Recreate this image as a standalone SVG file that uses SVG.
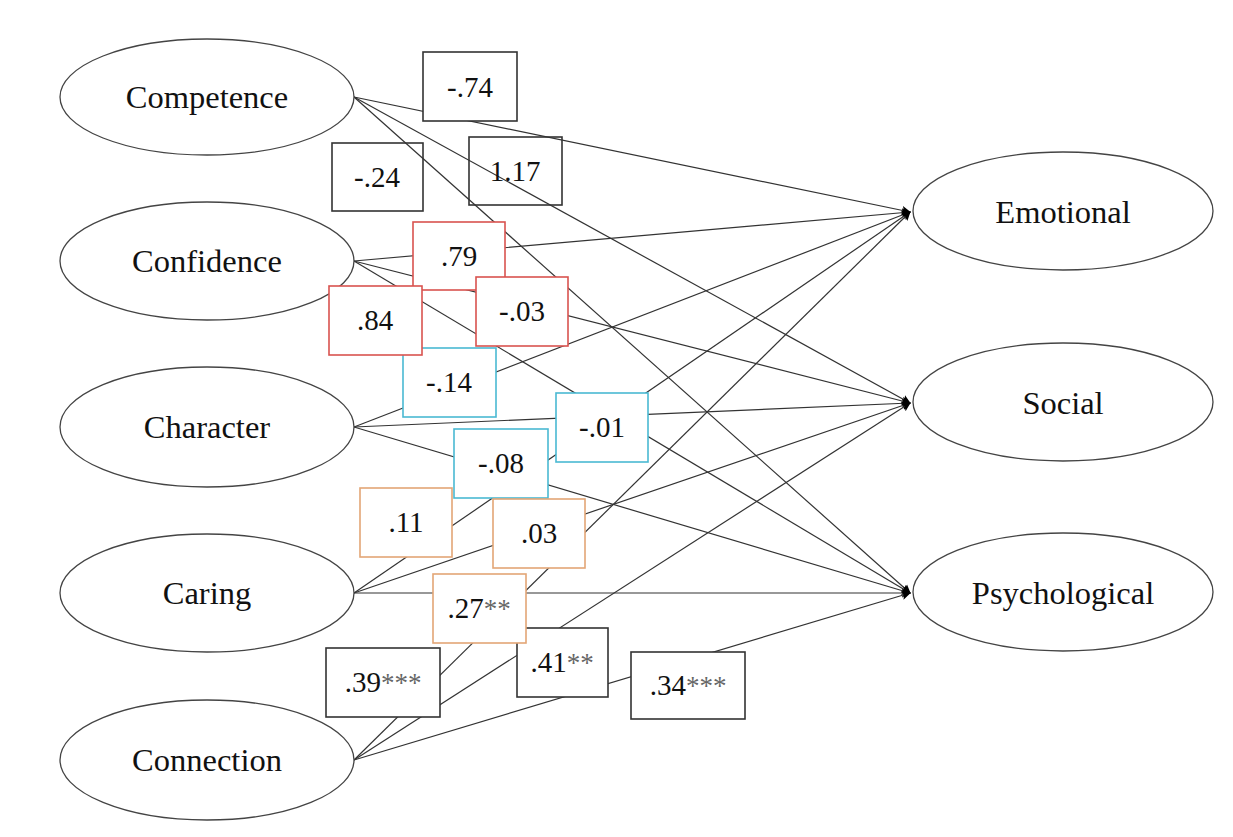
<svg xmlns="http://www.w3.org/2000/svg" width="1233" height="837" viewBox="0 0 1233 837">
<defs>
<style>
.node ellipse{fill:#fff;stroke:#444;stroke-width:1.3}
.node text{font-family:"Liberation Serif","Times New Roman",serif;font-size:32.5px;fill:#111;text-anchor:middle}
#connectors line{stroke:#333;stroke-width:1.2;marker-end:url(#ah)}
.lbl rect{fill:#fff;stroke-width:1.6}
.lbl text{font-family:"Liberation Serif","Times New Roman",serif;font-size:29px;fill:#111;text-anchor:middle}
.lbl .ast{fill:#666;font-size:27px}
.k rect{stroke:#333}
.r rect{stroke:#d9534f}
.c rect{stroke:#4ab9d3}
.o rect{stroke:#e3a676}
.nf rect{fill:none}
</style>
<marker id="ah" viewBox="0 0 10 10" refX="9" refY="5" markerWidth="9" markerHeight="11" markerUnits="userSpaceOnUse" orient="auto">
<path d="M0,0 L10,5 L0,10 L2,5 z" fill="#000"/>
</marker>
</defs>
<rect width="1233" height="837" fill="#fff"/>

<g id="connectors">
<line x1="354" y1="97" x2="910" y2="212"/>
<line x1="354" y1="97" x2="910" y2="403"/>
<line x1="354" y1="97" x2="910" y2="593"/>
<line x1="354" y1="261" x2="910" y2="212"/>
<line x1="354" y1="261" x2="910" y2="403"/>
<line x1="354" y1="261" x2="910" y2="593"/>
<line x1="354" y1="427" x2="910" y2="212"/>
<line x1="354" y1="427" x2="910" y2="403"/>
<line x1="354" y1="427" x2="910" y2="593"/>
<line x1="354" y1="593" x2="910" y2="212"/>
<line x1="354" y1="593" x2="910" y2="403"/>
<line x1="354" y1="593" x2="910" y2="593"/>
<line x1="354" y1="760" x2="910" y2="212"/>
<line x1="354" y1="760" x2="910" y2="403"/>
<line x1="354" y1="760" x2="910" y2="593"/>
</g>

<g id="node-competence" class="node"><ellipse cx="207" cy="97" rx="147" ry="58"/><text x="207" y="108">Competence</text></g>
<g id="node-confidence" class="node"><ellipse cx="207" cy="261" rx="147" ry="59"/><text x="207" y="272">Confidence</text></g>
<g id="node-character" class="node"><ellipse cx="207" cy="427" rx="147" ry="60"/><text x="207" y="438">Character</text></g>
<g id="node-caring" class="node"><ellipse cx="207" cy="593" rx="147" ry="59"/><text x="207" y="604">Caring</text></g>
<g id="node-connection" class="node"><ellipse cx="207" cy="760" rx="147" ry="60"/><text x="207" y="771">Connection</text></g>
<g id="node-emotional" class="node"><ellipse cx="1063" cy="211" rx="150" ry="59"/><text x="1063" y="223">Emotional</text></g>
<g id="node-social" class="node"><ellipse cx="1063" cy="402" rx="150" ry="59"/><text x="1063" y="414">Social</text></g>
<g id="node-psychological" class="node"><ellipse cx="1063" cy="592" rx="150" ry="59"/><text x="1063" y="604">Psychological</text></g>

<g id="labels">
<g class="lbl k"><rect x="423" y="52" width="94" height="69"/><text x="470" y="97">-.74</text></g>
<g class="lbl k nf"><rect x="332" y="143" width="91" height="68"/><text x="377" y="187">-.24</text></g>
<g class="lbl k nf"><rect x="469" y="137" width="93" height="68"/><text x="515" y="181">1.17</text></g>
<g class="lbl k"><rect x="517" y="628" width="91" height="69"/><text x="562" y="672">.41<tspan class="ast">**</tspan></text></g>
<g class="lbl r"><rect x="413" y="222" width="92" height="68"/><text x="459" y="266">.79</text></g>
<g class="lbl r"><rect x="476" y="277" width="92" height="69"/><text x="522" y="321">-.03</text></g>
<g class="lbl c"><rect x="403" y="348" width="93" height="69"/><text x="449" y="392">-.14</text></g>
<g class="lbl r"><rect x="329" y="286" width="93" height="69"/><text x="375" y="330">.84</text></g>
<g class="lbl c"><rect x="556" y="393" width="92" height="69"/><text x="602" y="437">-.01</text></g>
<g class="lbl c"><rect x="454" y="429" width="94" height="69"/><text x="501" y="473">-.08</text></g>
<g class="lbl o"><rect x="360" y="488" width="92" height="69"/><text x="406" y="532">.11</text></g>
<g class="lbl o"><rect x="493" y="499" width="92" height="69"/><text x="539" y="543">.03</text></g>
<g class="lbl o"><rect x="433" y="574" width="93" height="69"/><text x="479" y="618">.27<tspan class="ast">**</tspan></text></g>
<g class="lbl k"><rect x="326" y="648" width="114" height="69"/><text x="383" y="692">.39<tspan class="ast">***</tspan></text></g>
<g class="lbl k"><rect x="631" y="652" width="114" height="67"/><text x="688" y="695">.34<tspan class="ast">***</tspan></text></g>
</g>
</svg>
